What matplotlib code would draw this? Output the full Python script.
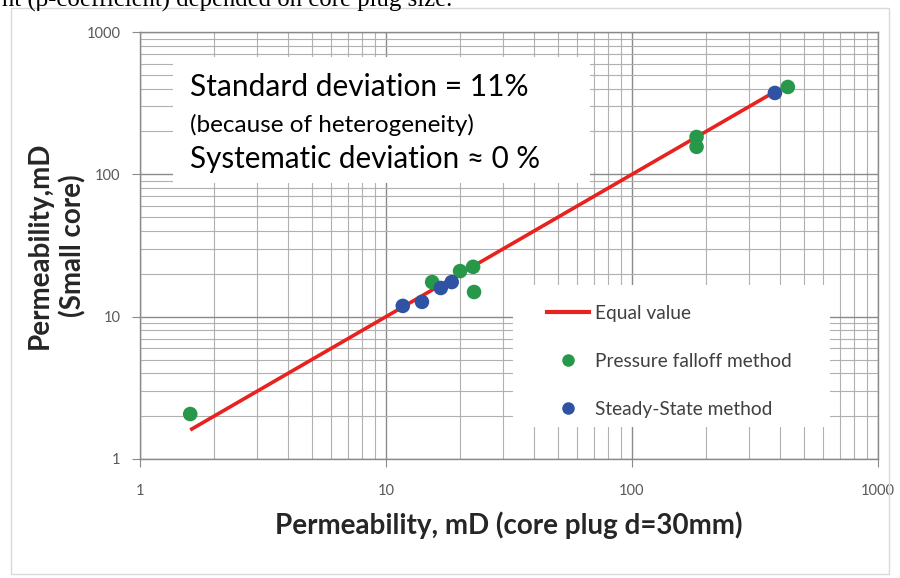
import matplotlib
matplotlib.use('Agg')
import matplotlib.pyplot as plt
from matplotlib.patches import Rectangle
from matplotlib.lines import Line2D

# data
equal_line = [1.6, 380]
falloff_x = [1.6, 15.4, 20.0, 22.6, 22.8, 183, 183, 430]
falloff_y = [2.07, 17.5, 20.9, 22.4, 14.9, 183, 156, 411]
steady_x = [11.7, 14.0, 16.7, 18.5, 381]
steady_y = [11.9, 12.7, 15.9, 17.5, 373]
ticks = [1, 10, 100, 1000]
tick_labels = ['1', '10', '100', '1000']

plt.rcParams['font.family'] = ['Lato', 'DejaVu Sans']

W, H = 900, 578
fig = plt.figure(figsize=(W / 100, H / 100), dpi=100)
ax = fig.add_axes([140 / W, 1 - 459 / H, 738 / W, 427 / H])

ax.set_xscale('log')
ax.set_yscale('log')
ax.set_xlim(1, 1000)
ax.set_ylim(1, 1000)

# grid
ax.grid(True, which='major', color='#8a8a8a', lw=1.0)
ax.grid(True, which='minor', color='#b0b0b0', lw=0.8)
ax.set_axisbelow(True)
for sp in ax.spines.values():
    sp.set_color('#8a8a8a')
    sp.set_linewidth(1.0)

ax.set_xticks(ticks)
ax.set_xticklabels(tick_labels)
ax.set_yticks(ticks)
ax.set_yticklabels(tick_labels)
ax.tick_params(which='major', length=6, color='#8a8a8a', labelsize=10.5,
               labelcolor='#595959')
ax.tick_params(axis='x', which='major', pad=12)
ax.tick_params(axis='y', which='major', pad=8)
ax.tick_params(which='minor', length=0)

# series
ax.plot(equal_line, equal_line, color='#e8221e', lw=2.6, zorder=3,
        solid_capstyle='butt')
ax.scatter(falloff_x, falloff_y, s=110, color='#27984a', zorder=4,
           edgecolors='none')
ax.scatter(steady_x, steady_y, s=110, color='#2f52a3', zorder=5,
           edgecolors='none')

# annotation box
ax.add_patch(Rectangle((33 / 738, (459 - 183) / 427), 417 / 738, 126 / 427,
                       transform=ax.transAxes, facecolor='white',
                       edgecolor='none', zorder=2))
tx = 50 / 738
ax.text(tx, (459 - 96) / 427, 'Standard deviation = 11%', transform=ax.transAxes,
        fontsize=21.5, va='baseline', ha='left', zorder=6)
ax.text(tx, (459 - 132) / 427, '(because of heterogeneity)', transform=ax.transAxes,
        fontsize=17.5, va='baseline', ha='left', zorder=6)
ax.text(tx, (459 - 168) / 427, 'Systematic deviation \u2248 0 %', transform=ax.transAxes,
        fontsize=21.3, va='baseline', ha='left', zorder=6)

# legend area
ax.add_patch(Rectangle((373 / 738, 32 / 427), 317 / 738, 142 / 427,
                       transform=ax.transAxes, facecolor='white',
                       edgecolor='none', zorder=2))
handles = [
    Line2D([], [], color='#e8221e', lw=3),
    Line2D([], [], marker='o', ls='none', color='#27984a', markersize=8),
    Line2D([], [], marker='o', ls='none', color='#2f52a3', markersize=8),
]
labels = ['Equal value', 'Pressure falloff method', 'Steady-State method']
leg = ax.legend(handles, labels, loc='upper left',
                bbox_to_anchor=((547 - 140) / 738, (459 - 305) / 427),
                frameon=False, fontsize=13.8, borderpad=0, borderaxespad=0,
                handlelength=2.2, handletextpad=0.3, labelspacing=1.62)
leg.set_zorder(7)
for t in leg.get_texts():
    t.set_color('#404040')

ax.set_xlabel('Permeability, mD (core plug d=30mm)', fontsize=20,
              fontweight='bold', color='#262626', labelpad=10)
ax.set_ylabel('Permeability,mD\n(Small core)', fontsize=20,
              fontweight='bold', color='#262626', labelpad=0,
              multialignment='center', linespacing=1.3)

# top text line cut by the crop
fig.text(0.002, 1 - 6 / H, 'nt (\u03b2-coefficient) depended on core plug size.',
         family='Liberation Serif', fontsize=17.8, va='baseline', ha='left')

# chart area border
fig.add_artist(Rectangle((11 / W, 1 - 574 / H), 878 / W, 566 / H,
                         transform=fig.transFigure, facecolor='none',
                         edgecolor='#d9d9d9', lw=1.0))

fig.savefig('out.png', dpi=100)
